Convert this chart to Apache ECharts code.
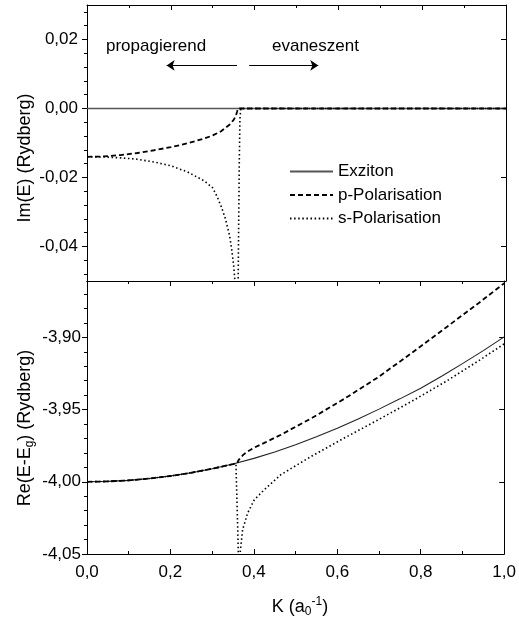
<!DOCTYPE html>
<html><head><meta charset="utf-8">
<script src="https://cdn.jsdelivr.net/npm/echarts@6/dist/echarts.min.js"></script>
<style>html,body{margin:0;padding:0;background:#fff}#c{width:519px;height:619px}</style>
</head><body><div id="c"></div>
<script>
const FONT = 'Liberation Sans, Arial, sans-serif';

// tick values
const kMin = 0, kMax = 1.0, kInterval = 0.2;
const imMin = -0.05, imMax = 0.03;
const imMajor = [-0.04, -0.02, 0, 0.02];
const imMinor = [-0.048, -0.044, -0.036, -0.032, -0.028, -0.024, -0.016, -0.012, -0.008, -0.004, 0.004, 0.008, 0.012, 0.016, 0.024, 0.028];
const reMin = -4.05, reMax = -3.861;
const reMajor = [-4.05, -4.00, -3.95, -3.90];
const reMinor = [-4.04, -4.03, -4.02, -4.01, -3.99, -3.98, -3.97, -3.96, -3.94, -3.93, -3.92, -3.91, -3.89, -3.88, -3.87];

const names = ['Exziton', 'p-Polarisation', 's-Polarisation'];

// Exziton
const exImK = [0, 1.0];
const exImV = [0, 0];
const exReK = [0, 0.05, 0.1, 0.15, 0.2, 0.25, 0.3, 0.35, 0.4, 0.45, 0.5, 0.55, 0.6, 0.65, 0.7, 0.75, 0.8, 0.85, 0.9, 0.95, 1.0];
const exReV = [-4.0000, -3.99975, -3.9990, -3.99775, -3.9960, -3.99375, -3.9910, -3.98775, -3.9838, -3.9794, -3.9743, -3.9689, -3.9630, -3.9566, -3.9497, -3.9426, -3.9352, -3.9270, -3.9182, -3.9092, -3.8997];

// p-Polarisation
const pImK = [0, 0.04, 0.08, 0.12, 0.16, 0.20, 0.24, 0.28, 0.30, 0.32, 0.34, 0.35, 0.355, 0.358, 0.36, 0.40, 0.6, 0.8, 1.0];
const pImV = [-0.0140, -0.0139, -0.0135, -0.0129, -0.0121, -0.0112, -0.0101, -0.0087, -0.0078, -0.0066, -0.0047, -0.0033, -0.0022, -0.0010, 0, 0, 0, 0, 0];
const pReK = [0, 0.05, 0.1, 0.15, 0.2, 0.25, 0.3, 0.35, 0.36, 0.363, 0.367, 0.375, 0.385, 0.40, 0.425, 0.465, 0.54, 0.62, 0.70, 0.78, 0.86, 0.94, 1.0];
const pReV = [-4.0000, -3.99975, -3.9990, -3.99775, -3.9960, -3.99375, -3.9910, -3.98775, -3.9870, -3.9852, -3.9836, -3.9812, -3.9790, -3.9765, -3.9731, -3.9674, -3.9557, -3.9420, -3.9272, -3.9105, -3.8933, -3.8760, -3.8626];

// s-Polarisation (null = break between branches)
const sImK = [0, 0.04, 0.08, 0.12, 0.16, 0.20, 0.24, 0.28, 0.30, 0.31, 0.32, 0.33, 0.34, 0.345, 0.350, 0.353, 0.355, 0.358, 0.3605, 0.362, 0.3635, 0.365, 0.367, 0.40, 0.6, 0.8, 1.0];
const sImV = [-0.0140, -0.01405, -0.0143, -0.0147, -0.0155, -0.0166, -0.0184, -0.0210, -0.0230, -0.0254, -0.0283, -0.0318, -0.0367, -0.0405, -0.0455, -0.0500, -0.0540, null, -0.0540, -0.0330, -0.0150, -0.0030, 0, 0, 0, 0, 0];
const sReK = [0, 0.05, 0.1, 0.15, 0.2, 0.25, 0.3, 0.35, 0.357, 0.359, 0.3615, 0.3635, 0.365, 0.3665, 0.3675, 0.373, 0.385, 0.401, 0.425, 0.465, 0.54, 0.62, 0.70, 0.78, 0.86, 0.94, 1.0];
const sReV = [-4.0000, -3.99975, -3.9990, -3.99775, -3.9960, -3.99375, -3.9910, -3.98775, -3.9873, -4.008, -4.035, -4.06, null, -4.06, -4.048, -4.0332, -4.0217, -4.0125, -4.0055, -3.9950, -3.9820, -3.9692, -3.9568, -3.9440, -3.9306, -3.9160, -3.9045];

// annotation arrows (data units of upper panel)
const arrowY = 0.0125;
const arrowLeft = [0.358, 0.190];
const arrowRight = [0.387, 0.552];

function zip(ks, vs) { return ks.map((k, i) => [k, vs[i] == null ? '-' : vs[i]]); }
const fmt2 = v => v.toFixed(2).replace('.', ',');
const fmt1 = v => v.toFixed(1).replace('.', ',');

const solidUp = { color: '#555', width: 1.5, type: 'solid' };
const solid = { color: '#222', width: 1.1, type: 'solid' };
const dashed = { color: '#000', width: 1.8, type: [5, 3] };
const dotted = { color: '#000', width: 1.6, type: [1.5, 2.6] };

const G0 = { left: 87, top: 5, width: 419, height: 276 };
const G1 = { left: 87, top: 281, width: 419, height: 273 };

function xAx(grid, pos, opts) {
  return Object.assign({
    type: 'value', gridIndex: grid, position: pos, min: kMin, max: kMax, interval: kInterval,
    axisLine: { show: true, onZero: false, lineStyle: { color: '#000', width: 1 } },
    axisTick: { show: true, inside: true, length: 5, lineStyle: { color: '#000' } },
    minorTick: { show: true, splitNumber: 2, length: 3, lineStyle: { color: '#000' } },
    axisLabel: { show: false }, splitLine: { show: false }
  }, opts || {});
}
function yAx(grid, pos, min, max, ticks, opts) {
  return Object.assign({
    type: 'value', gridIndex: grid, position: pos, min: min, max: max,
    axisLine: { show: true, onZero: false, lineStyle: { color: '#000', width: 1 } },
    axisTick: { show: true, inside: pos === 'right', length: 5, customValues: ticks, lineStyle: { color: '#000' } },
    axisLabel: { show: false }, splitLine: { show: false }
  }, opts || {});
}
function yMinor(grid, pos, min, max, ticks) {
  return {
    type: 'value', gridIndex: grid, position: pos, min: min, max: max,
    axisLine: { show: false },
    axisTick: { show: true, inside: pos === 'right', length: 3, customValues: ticks, lineStyle: { color: '#000' } },
    axisLabel: { show: false }, splitLine: { show: false }
  };
}

const labelStyle = { show: true, fontSize: 17, fontFamily: FONT, color: '#000' };

const option = {
  animation: false,
  backgroundColor: '#fff',
  grid: [G0, G1],
  xAxis: [
    xAx(0, 'bottom', { axisTick: { show: false }, minorTick: { show: false } }),
    xAx(0, 'top'),
    xAx(1, 'top'),
    xAx(1, 'bottom', { axisLabel: Object.assign({ margin: 10, formatter: fmt1 }, labelStyle) })
  ],
  yAxis: [
    yAx(0, 'left', imMin, imMax, imMajor, { axisLabel: Object.assign({ margin: 9, customValues: imMajor, formatter: fmt2 }, labelStyle) }),
    yMinor(0, 'left', imMin, imMax, imMinor),
    yAx(0, 'right', imMin, imMax, imMajor),
    yMinor(0, 'right', imMin, imMax, imMinor),
    yAx(1, 'left', reMin, reMax, reMajor, { axisLabel: Object.assign({ margin: 6, customValues: reMajor, formatter: fmt2 }, labelStyle) }),
    yMinor(1, 'left', reMin, reMax, reMinor),
    yAx(1, 'right', reMin, reMax, reMajor),
    yMinor(1, 'right', reMin, reMax, reMinor)
  ],
  legend: {
    data: names, orient: 'vertical', left: 284, top: 157,
    itemWidth: 43, itemHeight: 12, itemGap: 4.5,
    itemStyle: { opacity: 0 },
    textStyle: { fontSize: 17, fontFamily: FONT, color: '#000', lineHeight: 19, padding: [0, 0, 0, 0] }
  },
  graphic: [
    { type: 'text', x: 106, y: 46, style: { text: 'propagierend', fontSize: 17, fontFamily: FONT, fill: '#000', align: 'left', verticalAlign: 'middle' } },
    { type: 'text', x: 272, y: 46, style: { text: 'evaneszent', fontSize: 17, fontFamily: FONT, fill: '#000', align: 'left', verticalAlign: 'middle' } },
    { type: 'text', x: 25, y: 158, rotation: Math.PI / 2, style: { text: 'Im(E) (Rydberg)', fontSize: 18, fontFamily: FONT, fill: '#000', align: 'center', verticalAlign: 'middle' } },
    { type: 'text', x: 25, y: 428, rotation: Math.PI / 2, style: {
        text: '{n|Re(E-E}{s|g}{n|) (Rydberg)}', align: 'center', verticalAlign: 'middle',
        rich: { n: { fontSize: 18, fontFamily: FONT, fill: '#000', lineHeight: 22 }, s: { fontSize: 12, fontFamily: FONT, fill: '#000', lineHeight: 10, verticalAlign: 'bottom' } } } },
    { type: 'text', x: 300, y: 607, style: {
        text: '{n|K (a}{s|0}{p|-1}{n|)}', align: 'center', verticalAlign: 'middle',
        rich: { n: { fontSize: 18, fontFamily: FONT, fill: '#000', lineHeight: 22 }, s: { fontSize: 12, fontFamily: FONT, fill: '#000', lineHeight: 10, verticalAlign: 'bottom' }, p: { fontSize: 12, fontFamily: FONT, fill: '#000', lineHeight: 12, verticalAlign: 'top' } } } }
  ],
  series: [
    { name: names[0], type: 'line', xAxisIndex: 0, yAxisIndex: 0, data: zip(exImK, exImV), symbol: 'none', lineStyle: solidUp, itemStyle: { color: '#555' }, z: 2,
      markLine: { silent: true, symbol: ['none', 'arrow'], symbolSize: 8, label: { show: false },
        lineStyle: { color: '#000', width: 1, type: 'solid' }, itemStyle: { color: '#000' },
        data: [
          [{ coord: [arrowLeft[0], arrowY] }, { coord: [arrowLeft[1], arrowY] }],
          [{ coord: [arrowRight[0], arrowY] }, { coord: [arrowRight[1], arrowY] }]
        ] } },
    { name: names[1], type: 'line', xAxisIndex: 0, yAxisIndex: 0, data: zip(pImK, pImV), symbol: 'none', lineStyle: dashed, itemStyle: { color: '#000' }, z: 3 },
    { name: names[2], type: 'line', xAxisIndex: 0, yAxisIndex: 0, data: zip(sImK, sImV), symbol: 'none', lineStyle: dotted, itemStyle: { color: '#000' }, z: 3 },
    { name: names[0], type: 'line', xAxisIndex: 3, yAxisIndex: 4, data: zip(exReK, exReV), symbol: 'none', lineStyle: solid, itemStyle: { color: '#222' }, z: 2 },
    { name: names[1], type: 'line', xAxisIndex: 3, yAxisIndex: 4, data: zip(pReK, pReV), symbol: 'none', lineStyle: dashed, itemStyle: { color: '#000' }, z: 3 },
    { name: names[2], type: 'line', xAxisIndex: 3, yAxisIndex: 4, data: zip(sReK, sReV), symbol: 'none', lineStyle: dotted, itemStyle: { color: '#000' }, z: 3 }
  ]
};
const chart = echarts.init(document.getElementById('c'), null, { renderer: 'canvas' });
chart.setOption(option);
</script></body></html>
